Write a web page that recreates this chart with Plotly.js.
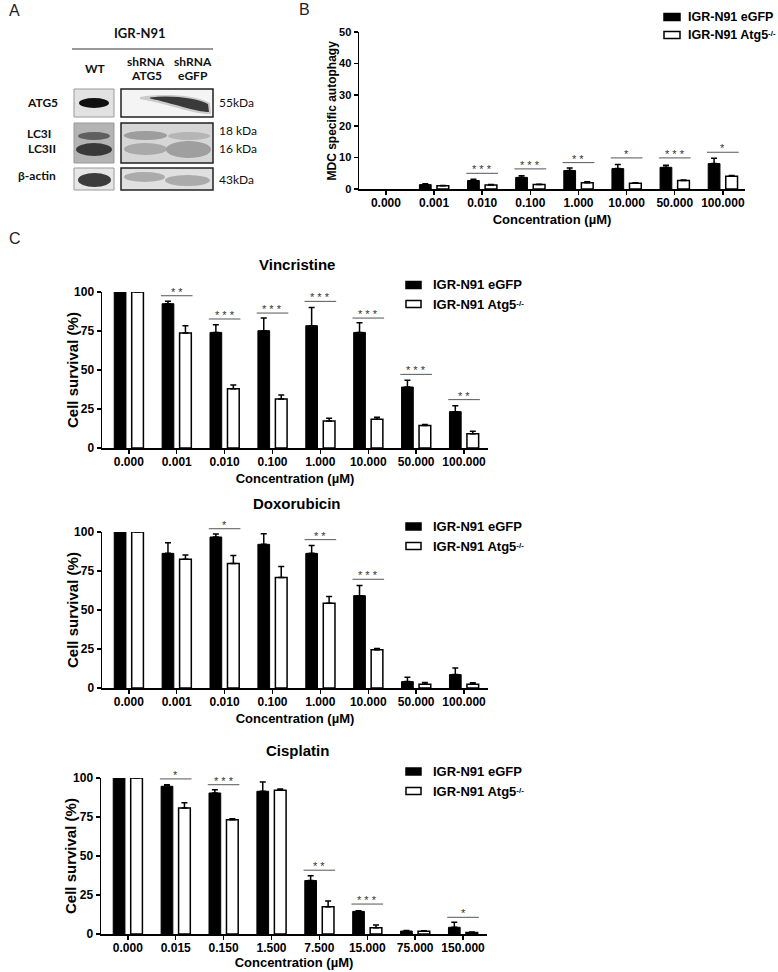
<!DOCTYPE html>
<html><head><meta charset="utf-8">
<script src="https://cdn.plot.ly/plotly-3.0.1.min.js"></script>
<style>html,body{margin:0;padding:0;background:#fff;overflow:hidden}#chart{width:778px;height:972px}</style>
</head><body><div id="chart"></div>
<script>
// ---------------- DATA ----------------
const concLabels = ['0.000','0.001','0.010','0.100','1.000','10.000','50.000','100.000'];
const cisConcLabels = ['0.000','0.015','0.150','1.500','7.500','15.000','75.000','150.000'];
const seriesNames = ['IGR-N91 eGFP', 'IGR-N91 Atg5-/-'];
const seriesLabels = ['IGR-N91 eGFP', 'IGR-N91 Atg5<span style="font-size:8px;baseline-shift:40%">-/-</span>'];

// Panel B: MDC specific autophagy (no bar visible at 0.000)
const mdcEgfp    = [null, 1.4, 2.7, 3.7, 5.9, 6.5, 6.9, 8.1];
const mdcEgfpErr = [null, 0.3, 0.4, 0.5, 0.8, 1.3, 0.7, 1.7];
const mdcAtg5    = [null, 1.0, 1.3, 1.4, 2.0, 1.8, 2.7, 4.1];
const mdcAtg5Err = [null, 0.1, 0.1, 0.1, 0.3, 0.2, 0.2, 0.2];
const mdcSigIdx  = [2, 3, 4, 5, 6, 7];
const mdcSigY    = [5.0, 6.4, 8.4, 9.9, 9.9, 11.7];
const mdcSigTxt  = ['***','***','**','*','***','*'];

// Panel C: Vincristine
const vinEgfp    = [100, 92.5, 74.1, 75.2, 78.4, 74.1, 39.1, 23.3];
const vinEgfpErr = [0, 1.5, 4.9, 8.1, 11.6, 6.2, 4.3, 3.8];
const vinAtg5    = [100, 73.7, 38.0, 31.4, 17.3, 18.4, 14.5, 9.2];
const vinAtg5Err = [0, 4.7, 2.4, 2.6, 1.7, 1.3, 0.5, 1.5];
const vinSigIdx  = [1, 2, 3, 4, 5, 6, 7];
const vinSigY    = [97.6, 82.7, 86.5, 94.0, 83.3, 47.2, 31.0];
const vinSigTxt  = ['**','***','***','***','***','***','**'];

// Panel C: Doxorubicin
const doxEgfp    = [100, 86.3, 96.8, 92.1, 86.3, 59.2, 4.1, 8.6];
const doxEgfpErr = [0, 6.8, 1.9, 6.8, 5.1, 6.5, 2.8, 4.3];
const doxAtg5    = [100, 82.6, 79.8, 70.8, 54.3, 24.5, 2.4, 2.4];
const doxAtg5Err = [0, 2.6, 5.2, 7.1, 4.3, 0.8, 1.2, 1.0];
const doxSigIdx  = [2, 4, 5];
const doxSigY    = [102.1, 95.1, 69.7];
const doxSigTxt  = ['*','**','***'];

// Panel C: Cisplatin
const cisEgfp    = [100, 94.7, 90.4, 91.5, 34.3, 14.5, 1.9, 4.3];
const cisEgfpErr = [0, 1.0, 2.1, 5.9, 3.0, 0.4, 0.4, 3.2];
const cisAtg5    = [100, 80.8, 73.3, 92.1, 17.5, 4.0, 1.7, 1.0];
const cisAtg5Err = [0, 3.4, 0.5, 0.9, 3.6, 1.8, 0.4, 0.3];
const cisSigIdx  = [1, 2, 4, 5, 7];
const cisSigY    = [99.4, 95.7, 40.9, 19.2, 10.7];
const cisSigTxt  = ['*','***','**','***','*'];

// ---------------- LAYOUT HELPERS ----------------
const W = 778, H = 972;
const FONT = 'Liberation Sans, Arial, sans-serif';
const BLOT_FONT = 'Lato, Open Sans, sans-serif';
const px = v => v / W;
const py = v => 1 - v / H;
const seriesFill = ['#000', '#fff'];

const traces = [];
const shapes = [];
const annotations = [];
const layout = {
  width: W, height: H, margin: {l:0, r:0, t:0, b:0},
  paper_bgcolor: '#fff', plot_bgcolor: 'rgba(0,0,0,0)',
  font: {family: FONT, color: '#000'},
  barmode: 'group', bargap: 0.27, bargroupgap: 0.33,
  showlegend: false
};

function addPanel(n, cats, egfp, egfpErr, atg5, atg5Err, sigIdx, sigY, sigTxt, opt) {
  const xs = n === 1 ? 'x' : 'x' + n, ys = n === 1 ? 'y' : 'y' + n;
  const xk = n === 1 ? 'xaxis' : 'xaxis' + n, yk = n === 1 ? 'yaxis' : 'yaxis' + n;
  const zeros = egfpErr.map(() => 0);
  traces.push({
    type: 'bar', x: cats, y: egfp, name: seriesNames[0], xaxis: xs, yaxis: ys,
    marker: {color: seriesFill[0], line: {color: '#000', width: 1}},
    error_y: {type: 'data', symmetric: false, array: egfpErr, arrayminus: zeros, color: '#000', thickness: 1.5, width: 3},
    hoverinfo: 'x+y'
  });
  traces.push({
    type: 'bar', x: cats, y: atg5, name: seriesNames[1], xaxis: xs, yaxis: ys,
    marker: {color: seriesFill[1], line: {color: '#000', width: 1.5}},
    error_y: {type: 'data', symmetric: false, array: atg5Err, arrayminus: zeros, color: '#000', thickness: 1.5, width: 3},
    hoverinfo: 'x+y'
  });
  layout[xk] = {
    domain: [px(opt.x0), px(opt.x1)], anchor: ys, type: 'category', range: opt.xr,
    showline: true, linecolor: '#000', linewidth: 1.5, ticks: 'outside', ticklen: 4, tickwidth: 1.5, tickcolor: '#000',
    ticklabelstandoff: -2,
    showgrid: false, zeroline: false, fixedrange: true,
    tickfont: {family: FONT, size: 12, weight: 'bold', color: '#000'},
    title: {text: 'Concentration (µM)', font: {family: FONT, size: 13, weight: 'bold', color: '#000'}, standoff: opt.xso}
  };
  layout[yk] = {
    domain: [py(opt.y1), py(opt.y0)], anchor: xs, range: [0, opt.ymax], tickvals: opt.ytv,
    showline: true, linecolor: '#000', linewidth: 1.5, ticks: 'outside', ticklen: 4, tickwidth: 1.5, tickcolor: '#000',
    showgrid: false, zeroline: false, fixedrange: true,
    tickfont: {family: FONT, size: opt.ytf, weight: 'bold', color: '#000'}
  };
  // y-axis title placed precisely as rotated text
  annotations.push({xref: 'paper', yref: ys + ' domain', x: px(opt.ytx), y: 0.5, xanchor: 'center', yanchor: 'middle',
    textangle: -90, text: opt.ytitle, showarrow: false,
    font: {family: FONT, size: opt.ytsize, weight: 'bold', color: '#000'}});
  // legend (swatch + label for each series)
  seriesLabels.forEach((nm, i) => {
    const cy = opt.ly + i * opt.lgap;
    shapes.push({type: 'rect', xref: 'paper', yref: 'paper', x0: px(opt.lx), x1: px(opt.lx + opt.lw),
      y0: py(cy + 3.5), y1: py(cy - 3.5), fillcolor: seriesFill[i], line: {color: '#000', width: 1.5}});
    annotations.push({xref: 'paper', yref: 'paper', x: px(opt.ltx), y: py(cy), xanchor: 'left', yanchor: 'middle',
      text: nm, showarrow: false, font: {family: FONT, size: opt.lfs, weight: 'bold', color: '#000'}});
  });
  sigIdx.forEach((c, i) => {
    shapes.push({type: 'line', xref: xs, yref: ys + ' domain', x0: c - 0.33, x1: c + 0.33,
      y0: sigY[i] / opt.ymax, y1: sigY[i] / opt.ymax, line: {color: '#555', width: 1}});
    annotations.push({xref: xs, yref: ys + ' domain', x: c, y: sigY[i] / opt.ymax, yanchor: 'bottom',
      text: sigTxt[i].split('').join(' '), showarrow: false, yshift: -4,
      font: {family: FONT, size: 11, color: '#333'}});
  });
  if (opt.title) {
    annotations.push({xref: 'paper', yref: 'paper', x: px(opt.tx), y: py(opt.ty), xanchor: 'center', yanchor: 'middle',
      text: opt.title, showarrow: false, font: {family: FONT, size: 15, weight: 'bold', color: '#000'}});
  }
}

addPanel(1, concLabels, mdcEgfp, mdcEgfpErr, mdcAtg5, mdcAtg5Err, mdcSigIdx, mdcSigY, mdcSigTxt,
  {x0: 359, x1: 745, y0: 32, y1: 189, xr: [-0.56, 7.46], ymax: 50, ytv: [0,10,20,30,40,50],
   ytf: 11, ytitle: 'MDC specific autophagy', ytsize: 12, ytx: 332, xso: 6,
   lx: 664, lw: 16, ltx: 686, ly: 17, lgap: 18, lfs: 12.5});
addPanel(2, concLabels, vinEgfp, vinEgfpErr, vinAtg5, vinAtg5Err, vinSigIdx, vinSigY, vinSigTxt,
  {x0: 102, x1: 488, y0: 292, y1: 448, xr: [-0.56, 7.5], ymax: 100, ytv: [0,25,50,75,100],
   ytf: 12, ytitle: 'Cell survival (%)', ytsize: 15, ytx: 72, xso: 6,
   lx: 406, lw: 15, ltx: 431, ly: 285, lgap: 19, lfs: 13,
   title: 'Vincristine', tx: 297, ty: 264});
addPanel(3, concLabels, doxEgfp, doxEgfpErr, doxAtg5, doxAtg5Err, doxSigIdx, doxSigY, doxSigTxt,
  {x0: 102, x1: 488, y0: 532, y1: 688, xr: [-0.56, 7.5], ymax: 100, ytv: [0,25,50,75,100],
   ytf: 12, ytitle: 'Cell survival (%)', ytsize: 15, ytx: 72, xso: 6,
   lx: 406, lw: 15, ltx: 431, ly: 526.5, lgap: 19.5, lfs: 13,
   title: 'Doxorubicin', tx: 297, ty: 503});
addPanel(4, cisConcLabels, cisEgfp, cisEgfpErr, cisAtg5, cisAtg5Err, cisSigIdx, cisSigY, cisSigTxt,
  {x0: 101, x1: 487, y0: 778, y1: 934, xr: [-0.56, 7.5], ymax: 100, ytv: [0,25,50,75,100],
   ytf: 12, ytitle: 'Cell survival (%)', ytsize: 15, ytx: 70, xso: 4,
   lx: 406, lw: 15, ltx: 431, ly: 771.5, lgap: 19.5, lfs: 13,
   title: 'Cisplatin', tx: 297, ty: 750});

// ---------------- PANEL LETTERS ----------------
[['A', 7, 11], ['B', 297, 9], ['C', 7, 238]].forEach(([t, x, y]) => annotations.push({
  xref: 'paper', yref: 'paper', x: px(x), y: py(y), xanchor: 'left', yanchor: 'middle', text: t, showarrow: false,
  font: {family: FONT, size: 16, color: '#222'}}));

// ---------------- PANEL A: western blot (illustration) ----------------
function rect(x0, y0, x1, y1, fill, lineColor, lw) {
  shapes.push({type: 'rect', xref: 'paper', yref: 'paper', x0: px(x0), x1: px(x1), y0: py(y1), y1: py(y0),
    fillcolor: fill, line: {color: lineColor, width: lw}, layer: 'below'});
}
function band(x0, y0, x1, y1, fill, op) {
  shapes.push({type: 'circle', xref: 'paper', yref: 'paper', x0: px(x0), x1: px(x1), y0: py(y1), y1: py(y0),
    fillcolor: fill, opacity: op === undefined ? 1 : op, line: {width: 0}, layer: 'below'});
}
function pathP(pts, fill, op) {
  const d = pts.map((p, i) => (i === 0 ? 'M' : (p.length > 2 ? 'C' : 'L')) +
    (p.length > 2 ? p.map((v, j) => j % 2 ? py(v) : px(v)).join(',')
                  : px(p[0]) + ',' + py(p[1]))).join(' ') + ' Z';
  shapes.push({type: 'path', xref: 'paper', yref: 'paper', path: d, fillcolor: fill, opacity: op, line: {width: 0}, layer: 'below'});
}
// boxes
rect(74, 89, 114, 117, '#e2e2e2', '#999', 1);
rect(121, 89, 213, 117, '#f4f4f4', '#222', 1.5);
rect(74, 123, 114, 163, '#b4b4b4', '#999', 1);
rect(121, 123, 213, 163, '#d6d6d6', '#222', 1.5);
rect(74, 168, 114, 190, '#e6e6e6', '#999', 1);
rect(121, 168, 213, 190, '#e0e0e0', '#222', 1.5);
// ATG5 bands
band(79, 98, 109, 108, '#111');
pathP([[140, 97], [165, 93, 195, 95, 210, 103], [211, 114], [196, 115, 168, 104, 140, 99]], '#999', 0.45);
pathP([[150, 97.5], [172, 95, 196, 98, 208, 104], [209, 112], [196, 112, 172, 103, 150, 98.5]], '#2a2a2a', 0.9);
// LC3 bands
band(78, 132, 110, 140, '#555', 0.9);
band(76, 143, 112, 156, '#333', 0.95);
band(124, 131, 167, 140, '#8a8a8a', 0.75);
band(168, 132, 210, 140, '#aaa', 0.75);
band(124, 143, 167, 155, '#9a9a9a', 0.75);
band(166, 141, 211, 158, '#8c8c8c', 0.75);
// beta-actin bands
band(78, 173, 111, 187, '#333', 0.95);
band(124, 172, 165, 182, '#999', 0.75);
band(165, 175, 210, 186, '#999', 0.75);
// header line
shapes.push({type: 'line', xref: 'paper', yref: 'paper', x0: px(72), x1: px(213), y0: py(49), y1: py(49), line: {color: '#333', width: 1}});

function blotText(t, x, y, bold, anchor, size) {
  annotations.push({xref: 'paper', yref: 'paper', x: px(x), y: py(y), xanchor: anchor || 'center', yanchor: 'middle',
    text: t, showarrow: false, font: {family: BLOT_FONT, size: size || 12, weight: bold ? 'bold' : 'normal', color: '#111'}});
}
blotText('IGR-N91', 140, 33, true, 'center', 13);
blotText('WT', 95, 68, true);
blotText('shRNA', 146, 62, true);
blotText('ATG5', 146, 75, true);
blotText('shRNA', 193, 62, true);
blotText('eGFP', 193, 75, true);
blotText('ATG5', 42, 103, true);
blotText('LC3I', 39, 133, true);
blotText('LC3II', 42, 149, true);
blotText('β-actin', 37, 175, true);
blotText('55kDa', 217, 102, false, 'left');
blotText('18 kDa', 217, 130, false, 'left');
blotText('16 kDa', 217, 149, false, 'left');
blotText('43kDa', 217, 180, false, 'left');

layout.shapes = shapes;
layout.annotations = annotations;

Plotly.newPlot('chart', traces, layout, {displayModeBar: false, staticPlot: true});
</script>
</body></html>
